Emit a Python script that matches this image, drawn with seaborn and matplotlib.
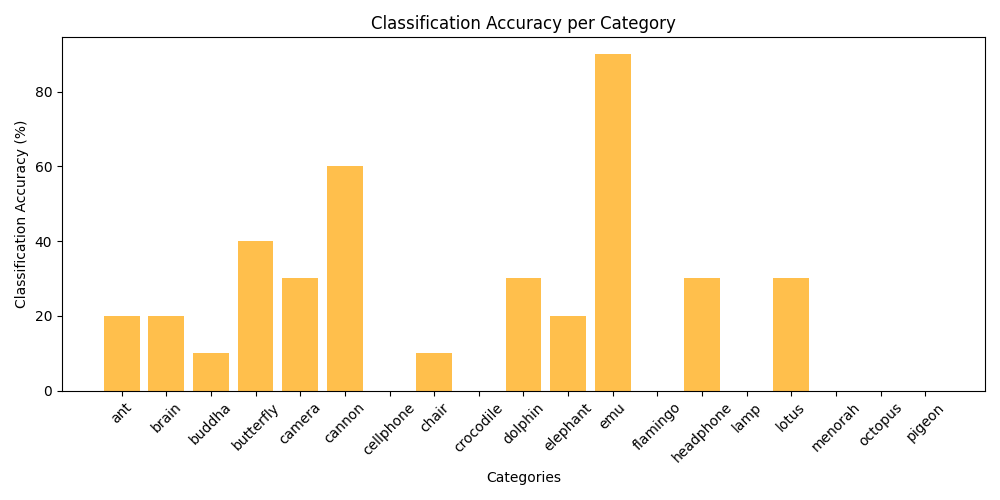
import numpy as np
import pandas as pd
import matplotlib
matplotlib.use("Agg")
import matplotlib.pyplot as plt
import seaborn as sns

categories = ["ant", "brain", "buddha", "butterfly", "camera", "cannon",
              "cellphone", "chair", "crocodile", "dolphin", "elephant", "emu",
              "flamingo", "headphone", "lamp", "lotus", "menorah", "octopus",
              "pigeon"]
accuracy = [20, 20, 10, 40, 30, 60, 0, 10, 0, 30, 20, 90, 0, 30, 0, 30, 0, 0, 0]

df = pd.DataFrame({"category": categories, "accuracy": accuracy})

fig, ax = plt.subplots(figsize=(10, 5), dpi=100)
sns.barplot(data=df, x="category", y="accuracy", color="orange",
            alpha=0.7, saturation=1, width=0.8, ax=ax)

# back to matplotlib's default x margins
ax.autoscale(enable=True, axis="x")
ax.margins(x=0.05)

ax.set_title("Classification Accuracy per Category")
ax.set_xlabel("Categories")
ax.set_ylabel("Classification Accuracy (%)")
plt.setp(ax.get_xticklabels(), rotation=45)

plt.tight_layout()
plt.savefig("out.png", dpi=100)
